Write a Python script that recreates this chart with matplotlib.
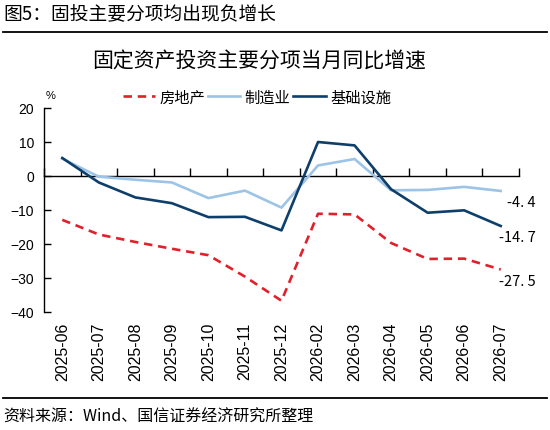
import matplotlib
matplotlib.use("Agg")
import matplotlib.pyplot as plt
from matplotlib.lines import Line2D

plt.rcParams['font.family'] = ['Liberation Sans', 'Noto Sans CJK SC', 'DejaVu Sans']
plt.rcParams['axes.unicode_minus'] = True

months = ["2025-06", "2025-07", "2025-08", "2025-09", "2025-10", "2025-11", "2025-12",
          "2026-02", "2026-03", "2026-04", "2026-05", "2026-06", "2026-07"]
real_estate = [-12.9, -17.2, -19.4, -21.4, -23.3, -29.6, -36.7, -11.1, -11.3, -19.7, -24.4, -24.3, -27.5]
manufacturing = [5.1, -0.2, -1.1, -1.9, -6.5, -4.3, -9.3, 3.1, 5.0, -4.2, -4.1, -3.2, -4.4]
infrastructure = [5.3, -1.9, -6.3, -8.0, -12.1, -12.0, -16.0, 10.0, 9.0, -3.9, -10.8, -10.1, -14.7]
series_names = ["房地产", "制造业", "基础设施"]
end_labels = ["-4. 4", "-14. 7", "-27. 5"]
y_ticks = [20, 10, 0, -10, -20, -30, -40]

RED = "#E0202B"
LIGHT = "#9DC3E6"
DARK = "#0E3F6B"
CJK = ['Noto Sans CJK SC', 'DejaVu Sans']

fig = plt.figure(figsize=(5.5, 4.31), dpi=100)
ax = fig.add_axes([0.08, 0.2738, 0.8636, 0.4733])

x = list(range(len(months)))
l1, = ax.plot(x, real_estate, color=RED, lw=1.9, ls=(0, (3.2, 2.2)), label=series_names[0], zorder=3)
l2, = ax.plot(x, manufacturing, color=LIGHT, lw=1.9, label=series_names[1], zorder=3)
l3, = ax.plot(x, infrastructure, color=DARK, lw=1.9, label=series_names[2], zorder=4)

ax.set_xlim(-0.5, len(months) - 0.5)
ax.set_ylim(-40, 20)
ax.set_yticks(y_ticks)
ax.tick_params(axis='y', direction='in', length=5, width=1, pad=7, labelsize=10)

for s in ['top', 'right']:
    ax.spines[s].set_visible(False)
ax.spines['left'].set_linewidth(1)
ax.spines['bottom'].set_position(('data', 0))
ax.spines['bottom'].set_linewidth(1)
ax.set_xticks([i - 0.5 for i in range(len(months) + 1)])
ax.tick_params(axis='x', direction='in', length=6, width=1, labelbottom=False)

sec = ax.secondary_xaxis('bottom')
sec.set_xticks(x)
sec.set_xticklabels(months, rotation=90, fontsize=11.5)
sec.tick_params(length=0, pad=7)
sec.spines['bottom'].set_visible(False)

# end-value labels
for vals, txt in zip([manufacturing, infrastructure, real_estate], end_labels):
    ax.annotate(txt, xy=(x[-1], vals[-1]), xytext=(25, -8), textcoords='offset points',
                ha='right', va='center', fontsize=10.5, family=CJK, annotation_clip=False)

ax.text(0.013, 1.04, "%", transform=ax.transAxes, fontsize=8, ha='center', va='bottom')

fig.legend(handles=[l1, l2, l3], labels=series_names, loc='center', bbox_to_anchor=(0.467, 0.773),
           ncol=3, frameon=False, handlelength=2.1, handletextpad=0.3, columnspacing=0.2,
           prop={'family': CJK, 'size': 11})

fig.text(0.006, 0.965, "图5：固投主要分项均出现负增长", family=CJK, fontsize=13.5, ha='left', va='center')
fig.add_artist(Line2D([0.006, 0.994], [0.923, 0.923], transform=fig.transFigure, color='black', lw=1.3))
fig.text(0.472, 0.856, "固定资产投资主要分项当月同比增速", family=CJK, fontsize=15, ha='center', va='center')
fig.add_artist(Line2D([0.006, 0.994], [0.074, 0.074], transform=fig.transFigure, color='black', lw=1.3))
fig.text(0.006, 0.031, "资料来源：Wind、国信证券经济研究所整理", family=CJK, fontsize=11.5, ha='left', va='center')

fig.savefig("out.png", dpi=100, facecolor='white')
